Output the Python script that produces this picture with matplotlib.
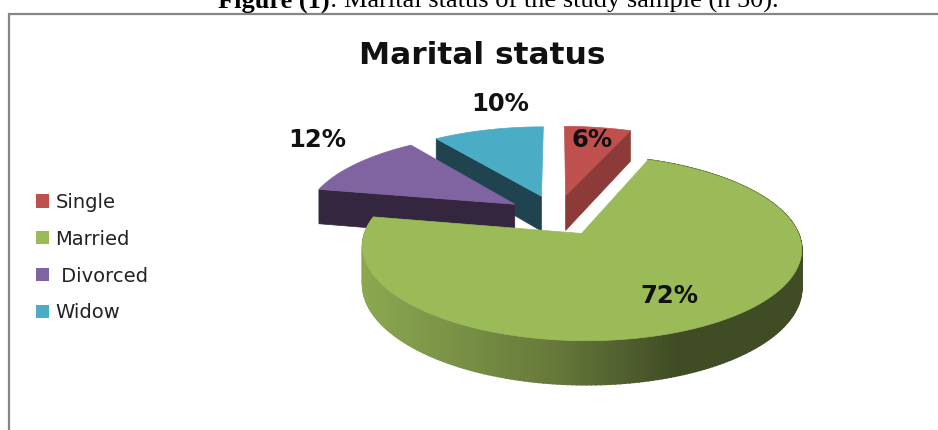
import numpy as np
import matplotlib
matplotlib.use("Agg")
import matplotlib.pyplot as plt
from matplotlib.patches import Patch
from matplotlib.colors import LinearSegmentedColormap

categories = ["Single", "Married", " Divorced", "Widow"]
values = [6, 72, 12, 10]
colors = ["#c0504d", "#9bbb59", "#8064a2", "#4bacc6"]
side_colors = ["#8c3b39", "#6f8a3e", "#35263f", "#1f4450"]
rim = LinearSegmentedColormap.from_list("rim", [(0, "#8aa850"), (0.45, "#66783a"), (0.72, "#3f4c24"), (1, "#3f4c24")])

# pie layout in pixels
x0, y0 = 556.5, 215
rx, ry = 210, 85
persp = 0.15
explode = 0.24
depth = 36


def project(u, v):
    den = 1 + persp * v
    return x0 + rx * u / den, y0 - ry * v / den, depth / den


def outline(t1, t2, mid):
    ts = np.radians(np.linspace(t1, t2, 240))
    ou = explode * np.sin(np.radians(mid))
    ov = explode * np.cos(np.radians(mid))
    return ou, ov, ou + np.sin(ts), ov + np.cos(ts)


fig = plt.figure(figsize=(9.38, 4.3), dpi=100)
ax = fig.add_axes([0, 0, 1, 1])
ax.set_xlim(0, 938)
ax.set_ylim(430, 0)
ax.axis("off")

# frame around the chart
ax.plot([8.5, 8.5, 938], [430, 14, 14], color="#868686", lw=1.6, solid_joinstyle="miter")

edges = np.cumsum([0] + values) * 3.6
# draw order back to front: widow, single, divorced, married
for i in [3, 0, 2, 1]:
    t1, t2 = edges[i], edges[i + 1]
    mid = (t1 + t2) / 2
    ou, ov, us, vs = outline(t1, t2, mid)
    px, py, pd = project(us, vs)
    ax_, ay_, ad_ = project(ou, ov)

    if i == 1:
        # outer wall, shaded strip by strip
        for j in range(len(px) - 1):
            shade = rim((px[j] - px.min()) / (px.max() - px.min()))
            ax.fill([px[j], px[j + 1], px[j + 1], px[j]],
                    [py[j], py[j + 1], py[j + 1] + pd[j + 1], py[j] + pd[j]],
                    color=shade, lw=1.2)
    else:
        # the cut face that looks at us
        k = -1 if i == 0 else 0
        ax.fill([ax_, px[k], px[k], ax_],
                [ay_, py[k], py[k] + pd[k], ay_ + ad_],
                color=side_colors[i], lw=0.5)

    ax.fill(np.r_[ax_, px], np.r_[ay_, py], color=colors[i], lw=0.5)

# value labels
label_x = [592, 669, 317, 500]
label_y = [140, 296, 140, 104]
for i in range(len(values)):
    ax.text(label_x[i], label_y[i], f"{values[i]}%", ha="center", va="center",
            fontsize=17.5, fontweight="bold", color="#111111")

ax.text(482, 55, "Marital status", ha="center", va="center", fontsize=22.5,
        fontweight="bold", color="#111111")

handles = [Patch(facecolor=c, edgecolor="none") for c in colors]
ax.legend(handles, categories, loc="center left", bbox_to_anchor=(0.02, 0.401),
          frameon=False, fontsize=14, labelspacing=0.92, handlelength=0.68,
          handleheight=0.68, handletextpad=0.3, labelcolor="#222222")

# caption, cut off by the top of the picture like the reference
cap = ax.text(218, 7.5, "Figure (1)", family="Liberation Serif", fontweight="bold",
              fontsize=19, va="baseline", color="black")
ax.annotate(": Marital status of the study sample (n 50).", xy=(1, 0), xycoords=cap,
            family="Liberation Serif", fontsize=19, va="bottom", ha="left", color="black")

fig.savefig("out.png", dpi=100)
